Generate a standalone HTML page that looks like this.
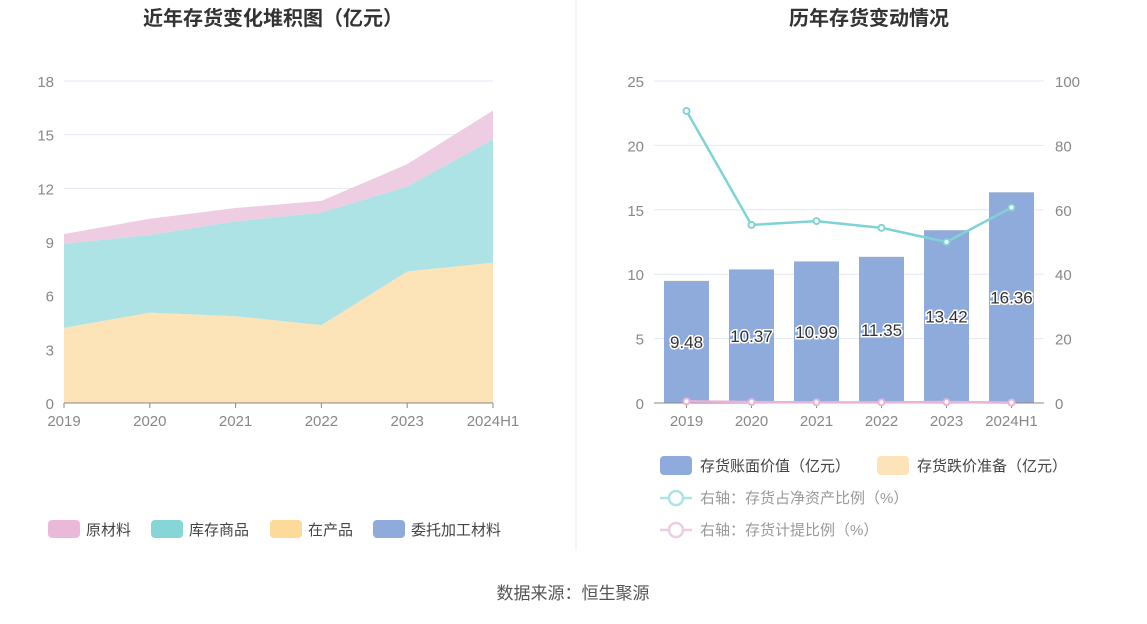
<!DOCTYPE html>
<html><head><meta charset="utf-8"><style>
body{margin:0;background:#fff;font-family:"Liberation Sans","Noto Sans CJK SC",sans-serif;}
svg text{font-family:"Liberation Sans","Noto Sans CJK SC",sans-serif;}
</style></head><body>
<svg id="c" width="1147" height="619" xmlns="http://www.w3.org/2000/svg">
<text x="273" y="25" text-anchor="middle" font-size="20" font-weight="bold" fill="#333">近年存货变化堆积图（亿元）</text>
<text x="869" y="25" text-anchor="middle" font-size="20" font-weight="bold" fill="#333">历年存货变动情况</text>
<line x1="576" y1="0" x2="576" y2="550" stroke="#eee"/>
<g id="L"></g><g id="R"></g>
<text x="573" y="599" text-anchor="middle" font-size="17" fill="#555">数据来源：恒生聚源</text>
</svg>
<script>
const cats=["2019","2020","2021","2022","2023","2024H1"];
const wip=[4.2,5.05,4.85,4.35,7.35,7.85];
const goods=[4.7,4.35,5.3,6.3,4.75,6.9];
const raw=[0.55,0.9,0.75,0.65,1.25,1.6];
const consign=[0,0,0,0,0,0];
const leftTicks=[0,3,6,9,12,15,18];
const bookVal=[9.48,10.37,10.99,11.35,13.42,16.36];
const provision=[0.02,0.02,0.01,0.01,0.02,0.01];
const netRatio=[90.7,55.3,56.5,54.4,50,60.7];
const provRatio=[0.5,0.3,0.2,0.2,0.3,0.1];
const rTicksL=[0,5,10,15,20,25];
const rTicksR=[0,20,40,60,80,100];
const NS="http://www.w3.org/2000/svg";
function mk(p,t,a){const e=document.createElementNS(NS,t);for(const k in a)e.setAttribute(k,a[k]);p.appendChild(e);return e;}
// left
const L=document.getElementById('L');
const lx=i=>64+i*(493-64)/(cats.length-1), ly=v=>403-v*(403-81)/18;
leftTicks.forEach(t=>{const g=mk(L,'line',{x1:64,x2:493,y1:ly(t),y2:ly(t),stroke:'#e3e8f4'});
const tx=mk(L,'text',{x:54,y:ly(t)+6,'text-anchor':'end','font-size':15,fill:'#888'});tx.textContent=t;});
const series=[[wip,'#fde4b8','area-wip'],[goods,'#ade3e4','area-goods'],[raw,'#eecde3','area-raw'],[consign,'#8eabdb','area-consign']];
let base=cats.map(()=>0);
series.forEach(([d,c,n])=>{const top=base.map((b,i)=>b+d[i]);
let pts=top.map((v,i)=>lx(i)+','+ly(v)).concat(base.map((v,i)=>lx(i)+','+ly(v)).reverse());
const p=mk(L,'polygon',{points:pts.join(' '),fill:c});base=top;});
mk(L,'line',{x1:64,x2:493,y1:403,y2:403,stroke:'#888'});
cats.forEach((c,i)=>{mk(L,'line',{x1:lx(i),x2:lx(i),y1:403,y2:408,stroke:'#888'});
const t=mk(L,'text',{x:lx(i),y:426,'text-anchor':'middle','font-size':15,fill:'#888'});t.textContent=c;});
[["原材料",'#eab9da',48],["库存商品",'#86d6d8',151],["在产品",'#fdd99a',270],["委托加工材料",'#8eabdb',373]].forEach(([n,c,x])=>{
const g=mk(L,'g',{});
mk(g,'rect',{x:x,y:520,width:32,height:18,rx:4,fill:c});const t=mk(g,'text',{x:x+38,y:535,'font-size':15,fill:'#444'});t.textContent=n;});
// right
const R=document.getElementById('R');
const step=(1044-654)/cats.length, rx=i=>654+step*(i+0.5), ry=v=>403-v*(403-81)/25, ry2=v=>403-v*(403-81)/100;
rTicksL.forEach((t,k)=>{mk(R,'line',{x1:654,x2:1044,y1:ry(t),y2:ry(t),stroke:'#e3e8f4'});
const a=mk(R,'text',{x:644,y:ry(t)+6,'text-anchor':'end','font-size':15,fill:'#888'});a.textContent=t;
const b=mk(R,'text',{x:1055,y:ry2(rTicksR[k])+6,'font-size':15,fill:'#888'});b.textContent=rTicksR[k];});
bookVal.forEach((v,i)=>{const b=mk(R,'rect',{x:rx(i)-22.5,y:ry(v),width:45,height:403-ry(v),fill:'#8eabdb'});
const pv=mk(R,'rect',{x:rx(i)-22.5,y:ry(v+provision[i]),width:45,height:ry(v)-ry(v+provision[i]),fill:'#fde4b8'});
const t=mk(R,'text',{x:rx(i),y:ry(v/2)+6,'text-anchor':'middle','font-size':17,fill:'#333',stroke:'#fff','stroke-width':3,'paint-order':'stroke'});t.textContent=v.toFixed(2);});
mk(R,'line',{x1:654,x2:1044,y1:403,y2:403,stroke:'#888'});
cats.forEach((c,i)=>{mk(R,'line',{x1:rx(i),x2:rx(i),y1:403,y2:408,stroke:'#888'});
const t=mk(R,'text',{x:rx(i),y:426,'text-anchor':'middle','font-size':15,fill:'#888'});t.textContent=c;});
[[netRatio,'#7fd3d5','line-net-asset-ratio'],[provRatio,'#e9b3d6','line-provision-ratio']].forEach(([d,c,n])=>{
const p=mk(R,'polyline',{points:d.map((v,i)=>rx(i)+','+ry2(v)).join(' '),fill:'none',stroke:c,'stroke-width':2.5});
d.forEach((v,i)=>{const m=mk(R,'circle',{cx:rx(i),cy:ry2(v),r:3,fill:'#fff',stroke:c,'stroke-width':2});});});
const lg=[[660,456,'rect','#8eabdb','存货账面价值（亿元）'],[877,456,'rect','#fde4b8','存货跌价准备（亿元）'],[660,488,'line','#ade3e4','右轴：存货占净资产比例（%）'],[660,520,'line','#eecde3','右轴：存货计提比例（%）']];
lg.forEach(([x,y,k,c,n])=>{const g=mk(R,'g',{});
if(k==='rect')mk(g,'rect',{x:x,y:y,width:32,height:19,rx:4,fill:c});else{mk(g,'line',{x1:x,x2:x+32,y1:y+10,y2:y+10,stroke:c,'stroke-width':2.5});mk(g,'circle',{cx:x+16,cy:y+10,r:7,fill:'#fff',stroke:c,'stroke-width':2.5});}
const t=mk(g,'text',{x:x+40,y:y+15,'font-size':15,fill:k==='rect'?'#444':'#999'});t.textContent=n;});
</script>
</body></html>
